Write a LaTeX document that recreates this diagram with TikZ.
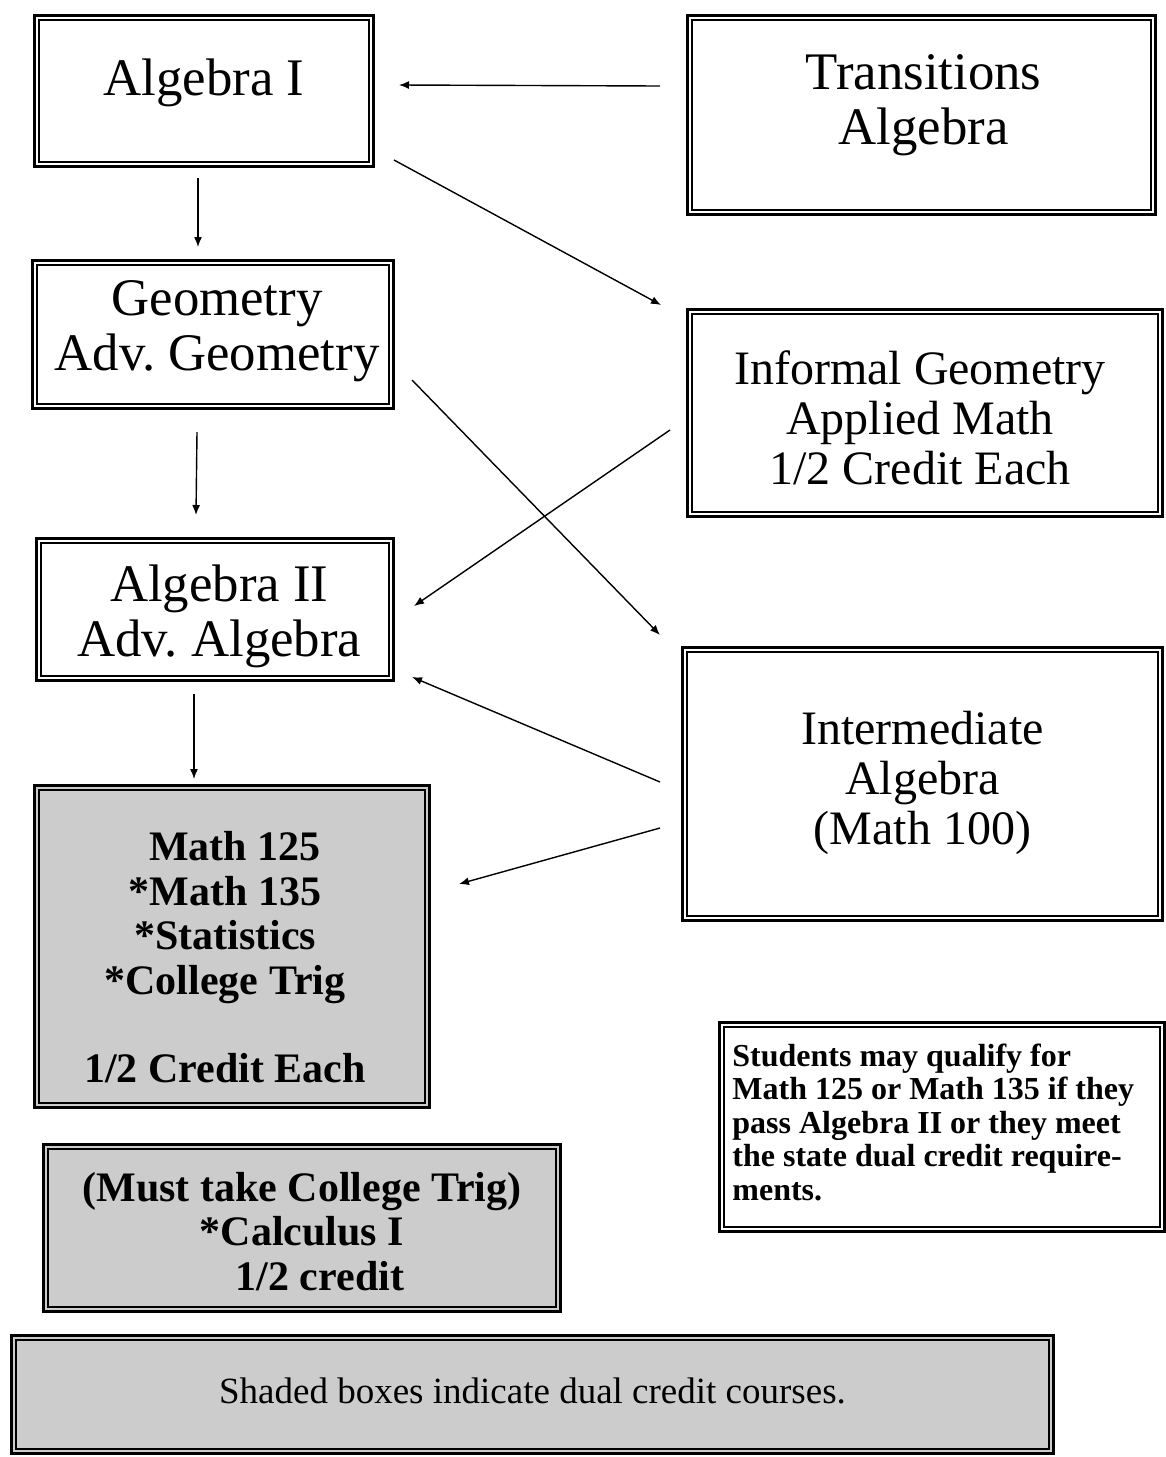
\documentclass[tikz,border=0pt]{standalone}
\usepackage{fontspec}
\setmainfont{Liberation Serif}
\frenchspacing
\usetikzlibrary{arrows.meta}
\tikzset{
	dbox/.style={draw, line width=1.6pt, inner sep=0pt,
		path picture={\draw[line width=0.75pt] ([shift={(2.3pt,-2.3pt)}]path picture bounding box.north west) rectangle ([shift={(-2.3pt,2.3pt)}]path picture bounding box.south east);}},
	shadedbox/.style={dbox, fill=gray!40},
	arr/.style={-{Latex[length=5pt, width=4pt]}, line width=0.7pt},
	bigtxt/.style={align=center, inner sep=0pt, font=\fontsize{26.4}{27.5}\selectfont},
	midtxt/.style={align=center, inner sep=0pt, font=\fontsize{24}{25}\selectfont},
	boldtxt/.style={align=center, inner sep=0pt, font=\bfseries\fontsize{21}{22.2}\selectfont},
	notetxt/.style={align=left, inner sep=0pt, font=\bfseries\fontsize{16}{16.75}\selectfont},
	keytxt/.style={inner sep=0pt, font=\fontsize{18.5}{20}\selectfont}
}
\begin{document}
\begin{tikzpicture}[x=0.5pt, y=-0.5pt]
	\useasboundingbox (0,0) rectangle (1166,1457);
	\node[dbox, minimum width=169.4pt, minimum height=75.4pt, label={[bigtxt, name=alg1-t, yshift=4.1pt]center:{Algebra I}}] (alg1) at (204, 91) {};
	\node[dbox, minimum width=233.9pt, minimum height=99.4pt, label={[bigtxt, name=trans-t, xshift=1pt, yshift=5pt]center:{Transitions\\Algebra}}] (trans) at (921.5, 115) {};
	\node[dbox, minimum width=180.4pt, minimum height=73.9pt, label={[bigtxt, name=geo-t, xshift=2pt, yshift=1.4pt]center:{Geometry\\Adv. Geometry}}] (geo) at (213, 334.5) {};
	\node[dbox, minimum width=237.4pt, minimum height=103.4pt, label={[midtxt, name=inf-t, xshift=-2.5pt, yshift=-2.5pt]center:{Informal Geometry\\Applied Math\\1/2 Credit Each}}] (inf) at (925, 413) {};
	\node[dbox, minimum width=178.4pt, minimum height=70.9pt, label={[bigtxt, name=alg2-t, xshift=2.2pt, yshift=-3.2pt]center:{Algebra II\\Adv. Algebra}}] (alg2) at (215, 609.5) {};
	\node[dbox, minimum width=239.9pt, minimum height=136.4pt, label={[midtxt, name=inter-t, yshift=0.7pt]center:{Intermediate\\Algebra\\(Math 100)}}] (inter) at (922.5, 784) {};
	\node[shadedbox, minimum width=197.4pt, minimum height=160.9pt, label={[boldtxt, name=m125-t, xshift=-3.5pt, yshift=-5.5pt]center:{\hspace*{10pt}Math 125\\{}*Math 135\\{}*Statistics\\{}*College Trig\\[22.2pt]1/2 Credit Each}}] (m125) at (232, 946.5) {};
	\node[shadedbox, minimum width=258.4pt, minimum height=83.4pt, label={[boldtxt, name=calc-t, yshift=-1.75pt]center:{(Must take College Trig)\\{}*Calculus I\\\hspace*{18pt}1/2 credit}}] (calc) at (302, 1228) {};
	\node[dbox, minimum width=222.4pt, minimum height=104.4pt, label={[notetxt, name=note-t, anchor=west, xshift=7pt, yshift=2.5pt]west:{Students may qualify for\\Math 125 or Math 135 if they\\pass Algebra II or they meet\\the state dual credit require-\\ments.}}] (note) at (942, 1127) {};
	\node[shadedbox, minimum width=520.9pt, minimum height=58.9pt, label={[keytxt, name=key-t, yshift=1.75pt]center:{Shaded boxes indicate dual credit courses.}}] (key) at (532.5, 1394.5) {};
	\draw[arr] ([xshift=-13pt, yshift=14.5pt]trans.west) -- ([xshift=12pt, yshift=3pt]alg1.east);
	\draw[arr] ([xshift=-3pt, yshift=-5pt]alg1.south) -- ([xshift=-7.5pt, yshift=6pt]geo.north);
	\draw[arr] ([xshift=9.5pt, yshift=4pt]alg1.south east) -- ([xshift=-12.5pt, yshift=1.5pt]inf.north west);
	\draw[arr] ([xshift=-8pt, yshift=-11pt]geo.south) -- ([xshift=-9.5pt, yshift=11pt]alg2.north);
	\draw[arr] ([xshift=8.5pt, yshift=-22.75pt]geo.east) -- ([xshift=-10.5pt, yshift=5.5pt]inter.north west);
	\draw[arr] ([xshift=-8pt, yshift=-8.5pt]inf.west) -- ([xshift=9.5pt, yshift=1.75pt]alg2.east);
	\draw[arr] ([xshift=-10.5pt, yshift=1pt]inter.west) -- ([xshift=8.5pt, yshift=2.5pt]alg2.south east);
	\draw[arr] ([xshift=-10.5pt, yshift=-6pt]alg2.south) -- ([xshift=-19pt, yshift=2.5pt]m125.north);
	\draw[arr] ([xshift=-10.5pt, yshift=-22pt]inter.west) -- ([xshift=14pt, yshift=31.25pt]m125.east);
\end{tikzpicture}
\end{document}
